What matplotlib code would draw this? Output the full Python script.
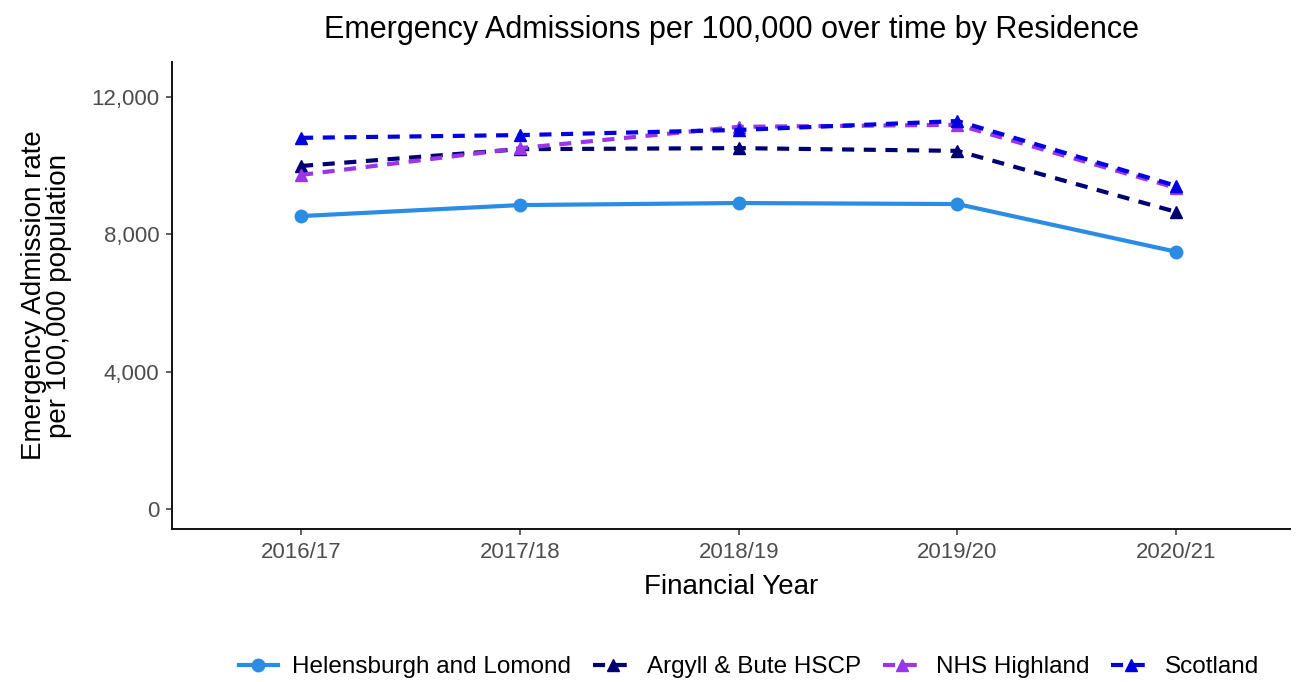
import matplotlib.pyplot as plt
from matplotlib.ticker import FuncFormatter

plt.rcParams["font.family"] = ["Liberation Sans", "DejaVu Sans"]

years = ["2016/17", "2017/18", "2018/19", "2019/20", "2020/21"]
helensburgh = [8530, 8850, 8910, 8880, 7490]
argyll_bute = [9990, 10480, 10510, 10430, 8650]
nhs_highland = [9730, 10510, 11130, 11190, 9350]
scotland = [10810, 10890, 11040, 11300, 9410]

dash = (0, (2.9, 2.3))
series = [
    ("Helensburgh and Lomond", helensburgh, "#2B8CE6", "-", "o"),
    ("Argyll & Bute HSCP", argyll_bute, "#000070", dash, "^"),
    ("NHS Highland", nhs_highland, "#9B35E8", dash, "^"),
    ("Scotland", scotland, "#0000E0", dash, "^"),
]

fig = plt.figure(figsize=(13, 6.82), dpi=100)
ax = fig.add_axes([172 / 1300, 1 - 529 / 682, (1290 - 172) / 1300, (529 - 62) / 682])

x = list(range(len(years)))
for name, vals, color, ls, mk in series:
    ax.plot(x, vals, color=color, linestyle=ls, linewidth=3, marker=mk,
            markersize=9, label=name)

ax.set_xlim(-0.59, 4.52)
ax.set_ylim(-590, 13020)
ax.set_xticks(x)
ax.set_xticklabels(years)
ax.set_yticks([0, 4000, 8000, 12000])
ax.yaxis.set_major_formatter(FuncFormatter(lambda v, p: f"{int(v):,}"))
ax.tick_params(labelsize=16, labelcolor="#4d4d4d", length=4, width=1.1,
               color="#333333", pad=5)
for s in ["top", "right"]:
    ax.spines[s].set_visible(False)
for s in ["left", "bottom"]:
    ax.spines[s].set_linewidth(1.4)
    ax.spines[s].set_color("#111111")

ax.set_xlabel("Financial Year", fontsize=20, labelpad=8)
ax.set_ylabel("Emergency Admission rate\nper 100,000 population", fontsize=20,
              labelpad=14, linespacing=0.95)
ax.set_title("Emergency Admissions per 100,000 over time by Residence",
             fontsize=22, pad=17)

fig.legend(loc="center", bbox_to_anchor=(749 / 1300, 1 - 667 / 682), ncol=4,
           frameon=False, fontsize=17.5, handlelength=1.6, columnspacing=0.9,
           handletextpad=0.6, borderaxespad=0)

fig.savefig("out.png", dpi=100)
